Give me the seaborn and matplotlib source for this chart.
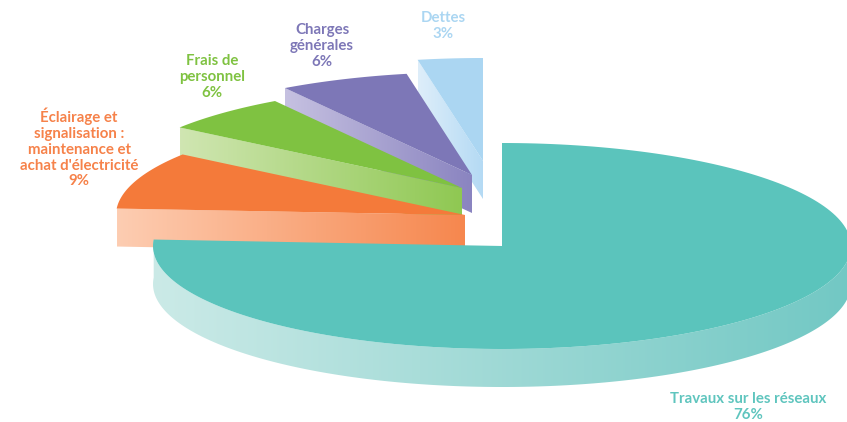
import numpy as np
import matplotlib
matplotlib.use('Agg')
import matplotlib.pyplot as plt
from matplotlib.patches import Polygon
import seaborn as sns

# Data
labels = ["Travaux sur les réseaux\n76%",
          "Éclairage et\nsignalisation :\nmaintenance et\nachat d'électricité\n9%",
          "Frais de\npersonnel\n6%",
          "Charges\ngénérales\n6%",
          "Dettes\n3%"]
values = [76, 9, 6, 6, 3]

# Colours: top face, wall light end, wall dark end
top_colors = ['#5bc4bc', '#f47a3a', '#7fc241', '#7d77b7', '#abd6f2']
wall_light = ['#cbeae7', '#fdcdb2', '#d0e6b2', '#c6c1e1', '#deeefa']
wall_dark = ['#72c8c4', '#f6874e', '#8fc852', '#8a84c0', '#b4daf4']
text_colors = ['#5fc5be', '#f6824a', '#7fc241', '#7d77b7', '#abd6f2']

# Pie layout in pixels
centers_x = [502, 465, 462, 472, 483]
centers_y = [246, 215, 188, 175, 161]
label_x = [748, 79, 212, 322, 443]
label_y = [407, 148, 77, 46, 26]
rx, ry, depth = 349, 103, 38

sns.set_theme(style='white')
plt.rcParams['font.family'] = ['Lato', 'DejaVu Sans']

fig = plt.figure(figsize=(8.47, 4.22), dpi=100)
ax = fig.add_axes([0, 0, 1, 1])


def rim(cx, cy, a1, a2):
    t = np.radians(np.linspace(a1, a2, 200))
    return cx + rx * np.cos(t), cy - ry * np.sin(t)


def gradient_wall(xs, ys, light, dark, z):
    poly = Polygon(np.column_stack([xs, ys]), closed=True, transform=ax.transData,
                   fc='none', ec='none')
    ax.add_patch(poly)
    cmap = sns.blend_palette([light, dark], as_cmap=True)
    im = ax.imshow(np.linspace(0, 1, 256)[None, :], cmap=cmap, aspect='auto',
                   extent=[xs.min(), xs.max(), ys.max(), ys.min()], zorder=z)
    im.set_clip_path(poly)


angles = 90 - np.cumsum([0] + values) * 3.6

# back to front, so the big slice ends up on top
for i in reversed(range(len(values))):
    cx, cy = centers_x[i], centers_y[i]
    a1, a2 = angles[i], angles[i + 1]
    z = 2 * (len(values) - i)
    top_x, top_y = rim(cx, cy, a1, a2)

    # big slice shows its outer rim, the others their cut face
    if i == 0:
        wx, wy = rim(cx, cy, 0, a2)
    else:
        wx, wy = np.array([top_x[0], cx]), np.array([top_y[0], cy])
    xs = np.r_[wx, wx[::-1]]
    ys = np.r_[wy, wy[::-1] + depth]
    gradient_wall(xs, ys, wall_light[i], wall_dark[i], z)

    ax.fill(np.r_[cx, top_x], np.r_[cy, top_y], color=top_colors[i], lw=0, zorder=z + 1)

    ax.text(label_x[i], label_y[i], labels[i], color=text_colors[i], ha='center', va='center',
            fontsize=10.8, fontweight='bold', linespacing=1.17, zorder=20)

ax.set_xlim(0, 847)
ax.set_ylim(422, 0)
ax.axis('off')

fig.savefig('out.png', dpi=100)
